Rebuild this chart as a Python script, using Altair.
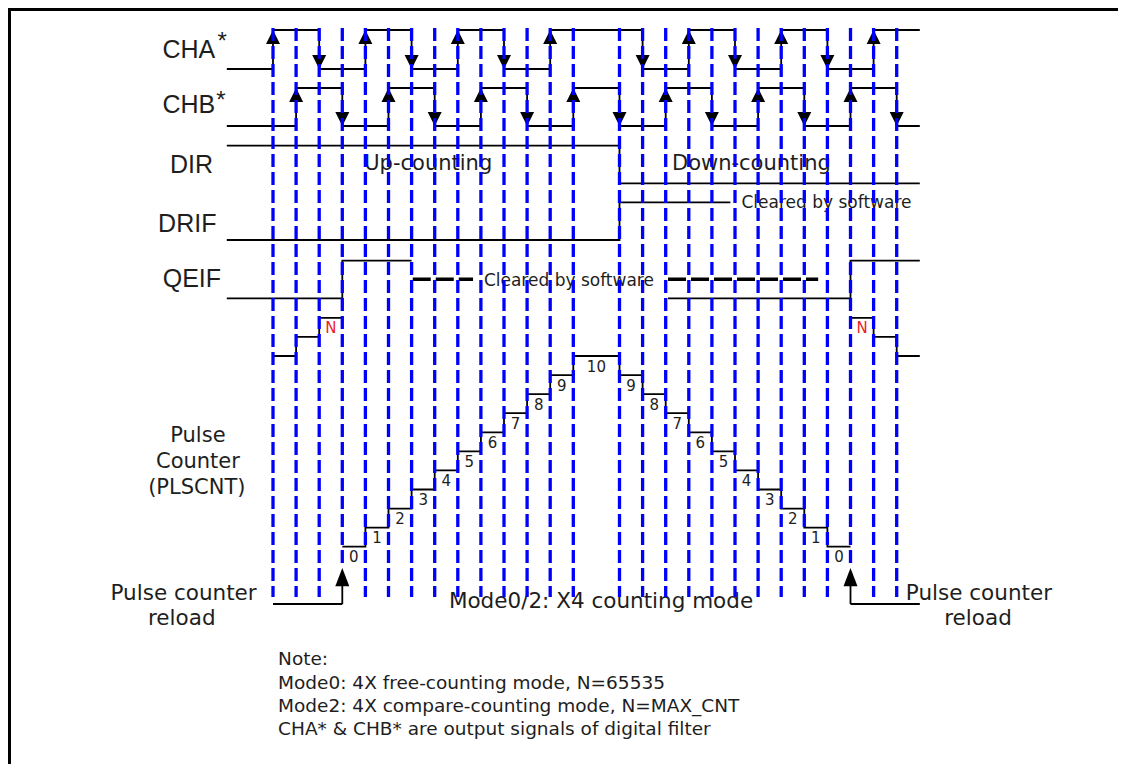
import altair as alt
import pandas as pd

# ----------------------------- data -----------------------------
SIG_START, SIG_END = -2, 28
CHA_EDGES = [0, 2, 4, 6, 8, 10, 12, 16, 18, 20, 22, 24, 26]
CHB_EDGES = [1, 3, 5, 7, 9, 11, 13, 15, 17, 19, 21, 23, 25, 27]
DIR_EDGES = [15]
DRIF_EDGES = [15]
DRIF_END = 19.8
QEIF_PART1 = (-2, 6, [3])
QEIF_PART2 = (17.1, 28, [25])
QEIF_CLEARED = [(6.05, 8.66), (17.1, 23.6)]
SAMPLE_T = [0, 1, 2, 3, 4, 5, 6, 7, 8, 9, 10, 11, 12, 13,
            15, 16, 17, 18, 19, 20, 21, 22, 23, 24, 25, 26, 27]
CNT_START = [0, 1, 2, 3, 4, 5, 6, 7, 8, 9, 10, 11, 12, 13,
             15, 16, 17, 18, 19, 20, 21, 22, 23, 24, 25, 26, 27]
CNT_VALUE = ["N-2", "N-1", "N", "0", "1", "2", "3", "4", "5", "6", "7", "8", "9", "10",
             "9", "8", "7", "6", "5", "4", "3", "2", "1", "0", "N", "N-1", "N-2"]
CNT_END = 28
RELOAD_T = [3, 25]

SIGNAL_NAMES = ["CHA", "CHB", "DIR", "DRIF", "QEIF"]
NOTE_LINES = ["Note:",
              "Mode0: 4X free-counting mode, N=65535",
              "Mode2: 4X compare-counting mode, N=MAX_CNT",
              "CHA* & CHB* are output signals of digital filter"]

# ----------------------------- layout -----------------------------
W, H = 1110, 756
UNIT = 23.1          # px per time step
ORIGIN = 265         # px of t=0 inside plot
LANE = {"CHA": (30, 69), "CHB": (88, 126), "DIR": (145.7, 183.3),
        "DRIF": (202.3, 240), "QEIF": (260.7, 298.3)}
QEIF_DASH_Y = 279.3
CNT_Y0, CNT_STEP = 546.7, 19.07
RELOAD_Y = 604
BLUE_TOP, BLUE_BOT, BLUE_BOT_ARROW = 28, 597, 568
INK = "#1e1e1e"

xs = alt.Scale(domain=[-ORIGIN / UNIT, (W - ORIGIN) / UNIT], range=[0, W], zero=False, nice=False)
ys = alt.Scale(domain=[8 + H, 8], zero=False, nice=False)


def X(f):
    return alt.X(f, type="quantitative", scale=xs, axis=None)


def Y(f):
    return alt.Y(f, type="quantitative", scale=ys, axis=None)


def level(v):
    return {"N": 12, "N-1": 11, "N-2": 10}.get(v, None) if not v.isdigit() else int(v)


def cnt_y(v):
    return CNT_Y0 - CNT_STEP * level(v)


# ---- digital signals ----
sig_rows, arrow_up, arrow_dn = [], [], []


def add_signal(name, part, start, end, edges, init, arrows=False):
    hi, lo = LANE[name]
    lvl = init
    sig_rows.append(dict(sig=f"{name}{part}", t=start, y=hi if lvl else lo))
    for e in edges:
        lvl = 1 - lvl
        sig_rows.append(dict(sig=f"{name}{part}", t=e, y=hi if lvl else lo))
        if arrows:
            (arrow_up if lvl else arrow_dn).append(dict(t=e, y=hi if lvl else lo))
    sig_rows.append(dict(sig=f"{name}{part}", t=end, y=hi if lvl else lo))


add_signal("CHA", 0, SIG_START, SIG_END, CHA_EDGES, 0, arrows=True)
add_signal("CHB", 0, SIG_START, SIG_END, CHB_EDGES, 0, arrows=True)
add_signal("DIR", 0, SIG_START, SIG_END, DIR_EDGES, 1)
add_signal("DRIF", 0, SIG_START, DRIF_END, DRIF_EDGES, 0)
add_signal("QEIF", 1, QEIF_PART1[0], QEIF_PART1[1], QEIF_PART1[2], 0)
add_signal("QEIF", 2, QEIF_PART2[0], QEIF_PART2[1], QEIF_PART2[2], 0)
sig_df = pd.DataFrame(sig_rows)

# ---- counter ----
cnt_rows, cnt_lbl = [], []
ends = CNT_START[1:] + [CNT_END]
for s, e, v in zip(CNT_START, ends, CNT_VALUE):
    grp = "pre" if s < RELOAD_T[0] else ("main" if s < RELOAD_T[1] else "post")
    cnt_rows.append(dict(g=grp, t=s, y=cnt_y(v)))
    if v == "N" or v.isdigit():
        cnt_lbl.append(dict(t=(s + e) / 2, y=cnt_y(v) + 10.5, text=v, red=(v == "N")))
cnt_rows.append(dict(g="pre", t=RELOAD_T[0], y=cnt_y("N")))
cnt_rows.append(dict(g="main", t=RELOAD_T[1], y=cnt_y("0")))
cnt_rows.append(dict(g="post", t=CNT_END, y=cnt_y("N-2")))
cnt_df = pd.DataFrame(cnt_rows)
lbl_df = pd.DataFrame(cnt_lbl)

# ---- segments (reload + dashed + frame) ----
reload_seg = pd.DataFrame([
    dict(t=0, t2=RELOAD_T[0], y=RELOAD_Y, y2=RELOAD_Y),
    dict(t=RELOAD_T[0], t2=RELOAD_T[0], y=RELOAD_Y, y2=586),
    dict(t=RELOAD_T[1], t2=CNT_END, y=RELOAD_Y, y2=RELOAD_Y),
    dict(t=RELOAD_T[1], t2=RELOAD_T[1], y=RELOAD_Y, y2=586),
])
reload_tip = pd.DataFrame([dict(t=r, y=BLUE_BOT_ARROW) for r in RELOAD_T])
dash_df = pd.DataFrame([dict(t=a, t2=b, y=QEIF_DASH_Y) for a, b in QEIF_CLEARED])
blue_df = pd.DataFrame([dict(t=t, y=BLUE_TOP, y2=BLUE_BOT_ARROW if t in RELOAD_T else BLUE_BOT)
                        for t in SAMPLE_T])
T_LEFT = -ORIGIN / UNIT
T_RIGHT = (W - ORIGIN) / UNIT
frame_df = pd.DataFrame([
    dict(t=T_LEFT, t2=T_RIGHT, y=9.5, y2=9.5),            # top edge
    dict(t=T_LEFT + 1.5 / UNIT, t2=T_LEFT + 1.5 / UNIT, y=8, y2=8 + H),  # left edge
])

# ---- layers ----
base_sig = alt.Chart(sig_df).mark_line(interpolate="step-after", color="black", strokeWidth=1.8).encode(
    x=X("t"), y=Y("y"), detail="sig:N")
base_cnt = alt.Chart(cnt_df).mark_line(interpolate="step-after", color="black", strokeWidth=1.8).encode(
    x=X("t"), y=Y("y"), detail="g:N")
reload = alt.Chart(reload_seg).mark_rule(color="black", strokeWidth=1.8).encode(
    x=X("t"), x2="t2:Q", y=Y("y"), y2="y2:Q")
frame = alt.Chart(frame_df).mark_rule(color="black", strokeWidth=3).encode(
    x=X("t"), x2="t2:Q", y=Y("y"), y2="y2:Q")
dashed = alt.Chart(dash_df).mark_rule(color="black", strokeWidth=3.5, strokeDash=[18, 5]).encode(
    x=X("t"), x2="t2:Q", y=Y("y"))

UP = "M0,0L-1,2L1,2Z"
DN = "M0,0L-1,-2L1,-2Z"
UP_LONG = "M0,0L-1,2.6L1,2.6Z"
up_arr = alt.Chart(pd.DataFrame(arrow_up)).mark_point(shape=UP, size=196, filled=True, color="black",
                                                      opacity=1, strokeWidth=0).encode(x=X("t"), y=Y("y"))
dn_arr = alt.Chart(pd.DataFrame(arrow_dn)).mark_point(shape=DN, size=196, filled=True, color="black",
                                                      opacity=1, strokeWidth=0).encode(x=X("t"), y=Y("y"))
rl_arr = alt.Chart(reload_tip).mark_point(shape=UP_LONG, size=196, filled=True, color="black",
                                          opacity=1, strokeWidth=0).encode(x=X("t"), y=Y("y"))

cnt_text = alt.Chart(lbl_df).mark_text(font="DejaVu Sans", fontSize=15, baseline="middle").encode(
    x=X("t"), y=Y("y"), text="text:N",
    color=alt.condition("datum.red", alt.value("#ee1c24"), alt.value(INK)))


def texts(rows, font, size, align="center", baseline="alphabetic", color=INK):
    return alt.Chart(pd.DataFrame(rows)).mark_text(font=font, fontSize=size, align=align,
                                                   baseline=baseline, color=color).encode(
        x=X("t"), y=Y("y"), text="text:N")


sig_label_pos = {"CHA": (-2.5, 58.3), "CHB": (-2.5, 113.3), "DIR": (-2.6, 173),
                 "DRIF": (-2.45, 231.7), "QEIF": (-2.25, 286.7)}
names = texts([dict(t=sig_label_pos[n][0], y=sig_label_pos[n][1], text=n) for n in SIGNAL_NAMES],
              "Liberation Sans", 25, align="right")
stars = texts([dict(t=-2.2, y=49, text="*"), dict(t=-2.25, y=108, text="*")],
              "Liberation Sans", 24)
pulse_lbl = texts([dict(t=-3.25, y=442, text="Pulse"), dict(t=-3.25, y=468, text="Counter"),
                   dict(t=-3.3, y=494, text="(PLSCNT)")], "DejaVu Sans", 21)
reload_lbl = texts([dict(t=-3.87, y=600, text="Pulse counter"), dict(t=-3.95, y=625, text="reload"),
                    dict(t=30.56, y=600, text="Pulse counter"), dict(t=30.52, y=625, text="reload")],
                   "DejaVu Sans", 21.5)
mode_lbl = texts([dict(t=14.2, y=608, text="Mode0/2: X4 counting mode")], "DejaVu Sans", 21.5)
dir_lbl = texts([dict(t=6.72, y=169.5, text="Up-counting"), dict(t=20.71, y=170, text="Down-counting")],
                "DejaVu Sans", 21)
clr_lbl = texts([dict(t=20.28, y=207.5, text="Cleared by software"),
                 dict(t=9.13, y=285.5, text="Cleared by software")], "DejaVu Sans", 17, align="left")
note_lbl = texts([dict(t=0.22, y=y, text=s) for y, s in zip([665, 688.5, 711.5, 735], NOTE_LINES)],
                 "DejaVu Sans", 18.5, align="left")

blue = alt.Chart(blue_df).mark_rule(color="#0000ff", strokeWidth=3.3, strokeDash=[13, 5]).encode(
    x=X("t"), y=Y("y"), y2="y2:Q")

# white strip covering the right edge of the drawing surface
cover = alt.Chart(pd.DataFrame({"a": [0]})).mark_rule(color="white", strokeWidth=4).encode(
    x=alt.value(W - 1), y=alt.value(12), y2=alt.value(H))

chart = alt.layer(
    frame,
    base_sig, dashed, base_cnt, reload,
    names, stars, pulse_lbl, reload_lbl, mode_lbl, dir_lbl, clr_lbl, note_lbl, cnt_text,
    up_arr, dn_arr, rl_arr, blue, cover,
).properties(
    width=W, height=H, padding=0, autosize=alt.AutoSizeParams(type="none"), background="white"
).configure_view(stroke="transparent", strokeWidth=0)

chart.save("out.html", embed_options={"renderer": "svg", "actions": False})
